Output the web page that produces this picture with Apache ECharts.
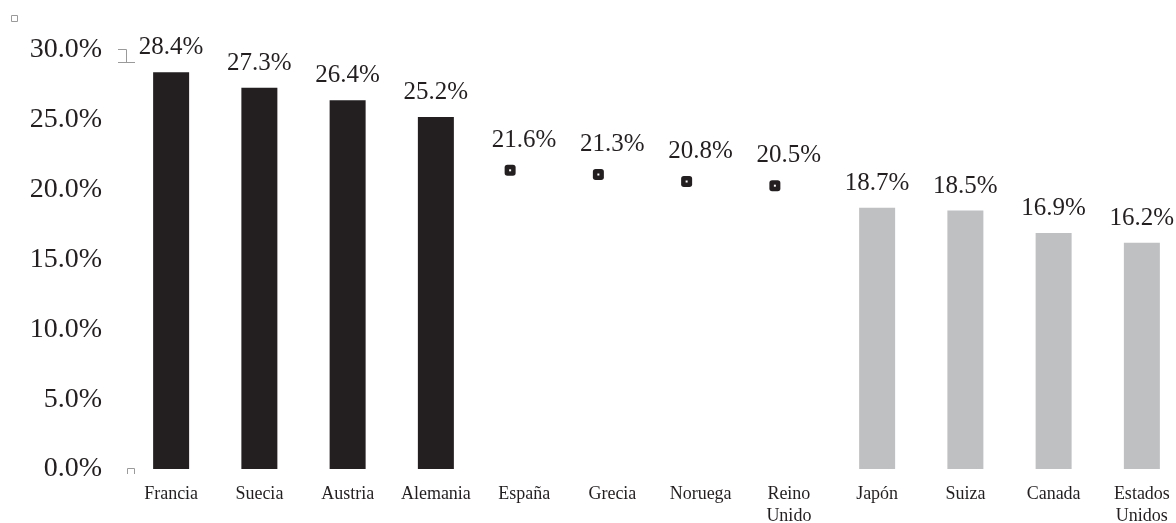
<!DOCTYPE html>
<html>
<head>
<meta charset="utf-8">
<script src="https://cdn.jsdelivr.net/npm/echarts@6/dist/echarts.min.js"></script>
<style>
  html, body { margin: 0; padding: 0; background: #ffffff; }
  #chart { width: 1176px; height: 523px; }
</style>
</head>
<body>
<div id="chart"></div>
<script>
// Countries, in display order
var categories = ['Francia', 'Suecia', 'Austria', 'Alemania', 'España', 'Grecia',
                  'Noruega', 'Reino\nUnido', 'Japón', 'Suiza', 'Canada', 'Estados\nUnidos'];
// Percentage values per country
var values = [28.4, 27.3, 26.4, 25.2, 21.6, 21.3, 20.8, 20.5, 18.7, 18.5, 16.9, 16.2];
// Group of each country: 'alto' = dark bar, 'medio' = point marker, 'bajo' = grey bar
var groups = ['alto', 'alto', 'alto', 'alto', 'medio', 'medio', 'medio', 'medio',
              'bajo', 'bajo', 'bajo', 'bajo'];
// Y-axis ticks
var yTicks = { min: 0, max: 30, step: 5 };

function pick(g) {
  return values.map(function (v, i) { return groups[i] === g ? v : '-'; });
}

var textColor = '#231f20';
var serif = '"Liberation Serif", "DejaVu Serif", serif';
var pct = function (p) { return Number(p.value).toFixed(1) + '%'; };

var labelStyle = {
  show: true,
  position: 'top',
  distance: 12,
  color: textColor,
  fontFamily: serif,
  fontSize: 25,
  formatter: pct
};

var chart = echarts.init(document.getElementById('chart'), null, { renderer: 'canvas' });
chart.setOption({
  animation: false,
  backgroundColor: '#ffffff',
  grid: {
    left: 127, top: 50, bottom: 54, width: 1059,
    containLabel: false,
    outerBoundsMode: 'none'
  },
  xAxis: {
    type: 'category',
    data: categories,
    axisLine: { show: false },
    axisTick: { show: false },
    axisLabel: {
      color: textColor,
      fontFamily: serif,
      fontSize: 18,
      lineHeight: 22,
      margin: 14,
      interval: 0
    }
  },
  yAxis: {
    type: 'value',
    min: yTicks.min,
    max: yTicks.max,
    interval: yTicks.step,
    splitLine: { show: false },
    axisLine: { show: false },
    axisTick: { show: false },
    axisLabel: {
      color: textColor,
      fontFamily: serif,
      fontSize: 28,
      margin: 25,
      formatter: function (v) { return v.toFixed(1) + '%'; }
    }
  },
  series: [
    {
      name: 'alto',
      type: 'bar',
      data: pick('alto'),
      barWidth: 36,
      barGap: '-100%',
      itemStyle: { color: '#231f20' },
      label: labelStyle
    },
    {
      name: 'bajo',
      type: 'bar',
      data: pick('bajo'),
      barWidth: 36,
      barGap: '-100%',
      itemStyle: { color: '#bec0c2' },
      label: labelStyle
    },
    {
      name: 'medio',
      type: 'scatter',
      data: pick('medio'),
      symbol: 'roundRect',
      symbolSize: 11,
      symbolOffset: [-14, 3],
      itemStyle: { color: '#231f20', opacity: 1 },
      label: Object.assign({}, labelStyle, { distance: 9, offset: [14, -3] }),
      z: 3
    },
    {
      name: 'medio-centro',
      type: 'scatter',
      data: pick('medio'),
      symbol: 'rect',
      symbolSize: 2,
      symbolOffset: [-14, 3],
      itemStyle: { color: '#ffffff', opacity: 1 },
      silent: true,
      z: 4
    }
  ],
  graphic: [
    { type: 'rect', shape: { x: 11.5, y: 15.5, width: 6, height: 6 },
      style: { fill: 'none', stroke: '#9a9a9a', lineWidth: 1 } },
    { type: 'polyline', shape: { points: [[118, 49.5], [126.5, 49.5], [126.5, 62.5]] },
      style: { fill: 'none', stroke: '#9a9a9a', lineWidth: 1 } },
    { type: 'line', shape: { x1: 118, y1: 62.5, x2: 135, y2: 62.5 },
      style: { stroke: '#9a9a9a', lineWidth: 1 } },
    { type: 'polyline', shape: { points: [[127.5, 474], [127.5, 468.5], [134.5, 468.5], [134.5, 474]] },
      style: { fill: 'none', stroke: '#9a9a9a', lineWidth: 1 } }
  ]
});
</script>
</body>
</html>
